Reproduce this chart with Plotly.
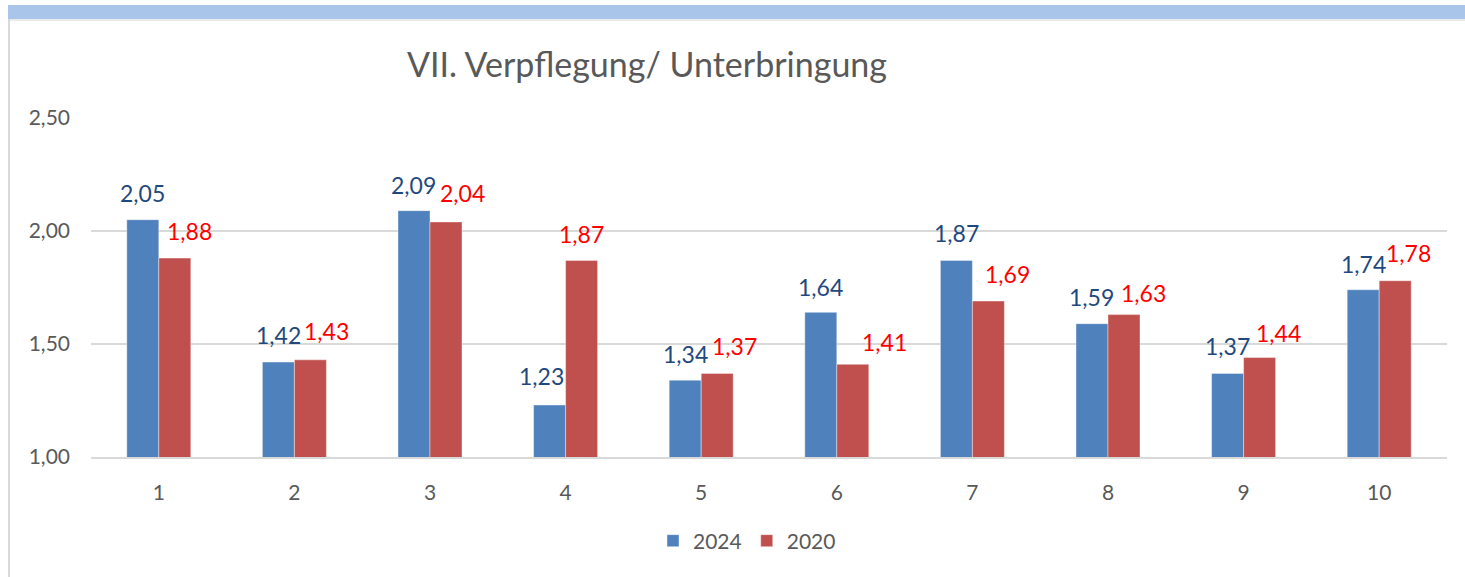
import plotly.graph_objects as go

# ---- data ----
categories = ["1", "2", "3", "4", "5", "6", "7", "8", "9", "10"]
values_2024 = [2.05, 1.42, 2.09, 1.23, 1.34, 1.64, 1.87, 1.59, 1.37, 1.74]
values_2020 = [1.88, 1.43, 2.04, 1.87, 1.37, 1.41, 1.69, 1.63, 1.44, 1.78]
series_names = ["2024", "2020"]
title_text = "VII. Verpflegung/ Unterbringung"
y_ticks = [1.0, 1.5, 2.0, 2.5]
y_ticklabels = ["1,00", "1,50", "2,00", "2,50"]

# ---- styling (label placement nudges in px, as manually moved in the original) ----
label_dx_2024 = [0, 0, 0, -8, 0, 0, 0, 0, 0, 0]
label_dy_2024 = [27, 27, 26, 29, 26, 25, 27, 27, 27, 26]
label_dx_2020 = [15, 16, 16, 0, 17, 32, 19, 19, 19, 13]
label_dy_2020 = [27, 29, 29, 26, 27, 22, 27, 22, 25, 28]

W, H = 1465, 577
ML, MR, MT, MB = 91, 18, 118, 120
FONT = "Lato"
BLUE, RED = "#4F81BD", "#C0504D"
LBL_BLUE, LBL_RED = "#1F497D", "#FF0000"
GREY_TXT = "#595959"
GRID = "#D9D9D9"

def fmt(v):
    return f"{v:.2f}".replace(".", ",")

fig = go.Figure()
fig.add_trace(go.Bar(x=categories, y=values_2024, name=series_names[0],
                     marker=dict(color=BLUE, line=dict(color="rgba(255,255,255,0.5)", width=0.8))))
fig.add_trace(go.Bar(x=categories, y=values_2020, name=series_names[1],
                     marker=dict(color=RED, line=dict(color="rgba(255,255,255,0.5)", width=0.8))))

plot_w = W - ML - MR
cat_px = plot_w / len(categories)
bargap = 0.528
half_bar_px = cat_px * (1 - bargap) / 4

annotations = []
for i, c in enumerate(categories):
    annotations.append(dict(x=i, y=values_2024[i], xref="x", yref="y", text=fmt(values_2024[i]),
                            showarrow=False, xanchor="center", yanchor="middle",
                            xshift=-half_bar_px + label_dx_2024[i], yshift=label_dy_2024[i],
                            font=dict(family=FONT, size=23, color=LBL_BLUE)))
    annotations.append(dict(x=i, y=values_2020[i], xref="x", yref="y", text=fmt(values_2020[i]),
                            showarrow=False, xanchor="center", yanchor="middle",
                            xshift=half_bar_px + label_dx_2020[i], yshift=label_dy_2020[i],
                            font=dict(family=FONT, size=23, color=LBL_RED)))

plot_h = H - MT - MB
def px_x(p):
    return (p - ML) / plot_w
def px_y(p):
    return (H - MB - p) / plot_h

shapes = [
    # top strip
    dict(type="rect", xref="paper", yref="paper", x0=px_x(8), x1=px_x(W + 5), y0=px_y(19), y1=px_y(5),
         fillcolor="#A9C5E9", line=dict(width=0), layer="above"),
    # faint shadow below strip
    dict(type="line", xref="paper", yref="paper", x0=px_x(10), x1=px_x(W + 5), y0=px_y(20), y1=px_y(20),
         line=dict(color="#E3E3E3", width=1.5)),
    # left border
    dict(type="line", xref="paper", yref="paper", x0=px_x(9), x1=px_x(9), y0=px_y(19), y1=px_y(H + 5),
         line=dict(color="#D9D9D9", width=2)),
]

fig.update_layout(
    width=W, height=H,
    margin=dict(l=ML, r=MR, t=MT, b=MB, autoexpand=False),
    paper_bgcolor="white", plot_bgcolor="white",
    barmode="group", bargap=bargap, bargroupgap=0,
    title=dict(text=title_text, xref="container", yref="container",
               x=647 / W, y=1 - 65 / H, xanchor="center", yanchor="middle",
               font=dict(family=FONT, size=34, color=GREY_TXT)),
    font=dict(family=FONT, color=GREY_TXT),
    legend=dict(orientation="h", xref="container", yref="container",
                x=747 / W, y=1 - 541 / H, xanchor="center", yanchor="middle",
                font=dict(family=FONT, size=21, color=GREY_TXT),
                itemwidth=30, traceorder="normal"),
    annotations=annotations,
    shapes=shapes,
    showlegend=True,
)
fig.update_xaxes(type="category", range=[-0.5, len(categories) - 0.5],
                 showgrid=False, showline=True, linecolor=GRID, linewidth=1.5,
                 ticks="", tickfont=dict(family=FONT, size=21, color=GREY_TXT),
                 ticklabelstandoff=16, zeroline=False)
fig.update_yaxes(range=[1.0, 2.5], tickvals=y_ticks, ticktext=y_ticklabels, showgrid=True,
                 gridcolor=GRID, gridwidth=1.5, showline=False, zeroline=False, ticks="",
                 tickfont=dict(family=FONT, size=21, color=GREY_TXT), ticklabelstandoff=20)

fig.write_html(
    "out.html",
    config={"displayModeBar": False},
    post_script="document.body.style.margin='0px';document.body.style.overflow='hidden';",
)
